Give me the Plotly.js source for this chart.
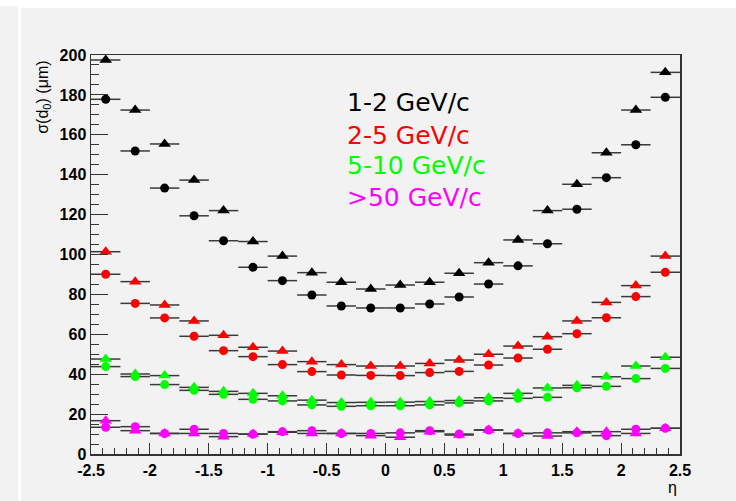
<!DOCTYPE html>
<html>
<head>
<meta charset="utf-8">
<script src="https://cdn.plot.ly/plotly-3.0.1.min.js"></script>
<style>html,body{margin:0;padding:0;background:#fff;}#chart{width:736px;height:501px;}</style>
</head>
<body>
<div id="chart"></div>
<script>
// eta bin centers (bin width 0.25)
const eta = [-2.375,-2.125,-1.875,-1.625,-1.375,-1.125,-0.875,-0.625,-0.375,-0.125,
             0.125,0.375,0.625,0.875,1.125,1.375,1.625,1.875,2.125,2.375];
const halfWidth = [0.125,0.125,0.125,0.125,0.125,0.125,0.125,0.125,0.125,0.125,
                   0.125,0.125,0.125,0.125,0.125,0.125,0.125,0.125,0.125,0.125];

// sigma(d0) in micrometres
const p1_2_tri  = [197.5,172.4,155.4,137.3,122.0,106.5,99.2,90.9,86.1,82.7,84.7,86.1,90.6,95.9,107.3,122.0,135.2,151.0,172.4,191.3];
const p1_2_circ = [177.8,151.9,133.3,119.4,106.9,93.6,86.9,79.7,74.2,73.2,73.2,75.2,78.7,85.2,94.3,105.4,122.7,138.5,155.0,178.8];
const p2_5_tri  = [101.4,86.4,74.7,66.7,59.5,53.5,51.6,46.3,44.8,44.1,44.1,45.4,47.1,50.0,54.1,58.8,66.7,76.0,84.4,99.2];
const p2_5_circ = [90.1,75.5,68.2,59.0,51.8,48.8,44.8,41.3,39.6,39.4,39.3,40.8,41.4,44.6,48.1,52.5,60.3,68.3,78.9,91.1];
const p5_10_tri  = [47.6,40.1,39.3,33.4,31.4,30.4,29.2,27.0,25.8,25.9,26.0,26.3,26.8,28.2,30.4,33.1,34.4,38.7,44.1,48.5];
const p5_10_circ = [43.8,38.8,34.8,31.9,29.9,27.4,26.6,24.6,23.9,24.2,24.2,24.6,25.6,26.6,27.9,28.4,33.2,33.9,37.8,42.9];
const p50_tri  = [16.7,11.7,10.3,10.3,8.7,10.0,10.9,10.3,10.3,9.2,8.4,11.2,9.5,12.0,10.3,9.0,11.2,11.2,10.3,12.9];
const p50_circ = [13.4,13.7,10.3,12.4,10.3,9.9,11.2,11.7,10.3,10.3,10.6,11.7,10.0,12.0,10.3,10.6,10.6,9.2,12.4,12.9];

const legendLabels = ['1-2 GeV/c','2-5 GeV/c','5-10 GeV/c','>50 GeV/c'];
const xTickVals = [-2.5,-2,-1.5,-1,-0.5,0,0.5,1,1.5,2,2.5];
const xTickText = ['-2.5','-2','-1.5','-1','-0.5','0','0.5','1','1.5','2','2.5'];

const colors = ['#000000','#ff0000','#00ff00','#ff00ff'];
const series = [
  [p1_2_tri, p1_2_circ],
  [p2_5_tri, p2_5_circ],
  [p5_10_tri, p5_10_circ],
  [p50_tri, p50_circ]
];

const traces = [];
series.forEach((pair, i) => {
  pair.forEach((vals, j) => {
    traces.push({
      type: 'scatter',
      mode: 'markers',
      x: eta,
      y: vals,
      name: legendLabels[i],
      showlegend: false,
      marker: {
        color: colors[i],
        symbol: j === 0 ? 'triangle-up' : 'circle',
        size: j === 0 ? 11 : 9,
        line: {width: 0}
      },
      error_x: {type: 'data', array: halfWidth, symmetric: true, width: 0, thickness: 1.5, color: '#3a3a3a'},
      cliponaxis: false
    });
  });
});

const tickFont = {family: 'Liberation Sans, Arial, sans-serif', size: 16, color: '#000', weight: 'bold'};
const annFont = {family: 'DejaVu Sans, sans-serif', size: 25};
const legY = [0.882, 0.797, 0.722, 0.644];

const annotations = legendLabels.map((t, i) => ({
  xref: 'paper', yref: 'paper', x: 0.431, y: legY[i],
  xanchor: 'left', yanchor: 'middle', showarrow: false,
  text: t.replace('>', '&gt;'), font: Object.assign({}, annFont, {color: colors[i]})
}));
annotations.push({
  xref: 'paper', yref: 'paper', x: -0.08, y: 0.895, textangle: -90,
  xanchor: 'center', yanchor: 'middle', showarrow: false,
  text: 'σ(d<sub>0</sub>) (μm)', font: {family: 'Liberation Sans, Arial, sans-serif', size: 16, color: '#000'}
});
annotations.push({
  xref: 'paper', yref: 'paper', x: 0.988, y: -0.083,
  xanchor: 'center', yanchor: 'middle', showarrow: false,
  text: 'η', font: {family: 'Liberation Sans, Arial, sans-serif', size: 16, color: '#000'}
});

// panel background shapes (pixel -> paper conversion using plot area 91..680 x, 55..454 y)
function px2x(px){ return (px - 91) / 589; }
function py2y(py){ return (454 - py) / 399; }

const layout = {
  width: 736, height: 501,
  margin: {l: 91, r: 56, t: 55, b: 47},
  paper_bgcolor: '#ffffff',
  plot_bgcolor: '#f2f2f2',
  showlegend: false,
  shapes: [
    {type: 'rect', xref: 'paper', yref: 'paper', layer: 'below',
     x0: px2x(0), x1: px2x(18), y0: py2y(501), y1: py2y(6), fillcolor: '#f2f2f2', line: {width: 0}},
    {type: 'rect', xref: 'paper', yref: 'paper', layer: 'below',
     x0: px2x(21), x1: px2x(736), y0: py2y(501), y1: py2y(8), fillcolor: '#f2f2f2', line: {width: 0}}
  ],
  xaxis: {
    range: [-2.5, 2.5], tickmode: 'array', tickvals: xTickVals, ticktext: xTickText,
    ticks: 'inside', ticklen: 11, tickwidth: 1, tickcolor: '#333',
    minor: {tick0: -2.5, dtick: 0.1, ticks: 'inside', ticklen: 6, tickcolor: '#333', tickwidth: 1, showgrid: false},
    showgrid: false, zeroline: false, showline: true, linecolor: '#333', linewidth: 1.5, mirror: true,
    tickfont: tickFont, ticklabelstandoff: 1
  },
  yaxis: {
    range: [0, 200], tick0: 0, dtick: 20,
    ticks: 'inside', ticklen: 17, tickwidth: 1, tickcolor: '#333',
    minor: {tick0: 0, dtick: 5, ticks: 'inside', ticklen: 8, tickcolor: '#333', tickwidth: 1, showgrid: false},
    showgrid: false, zeroline: false, showline: true, linecolor: '#333', linewidth: 1.5, mirror: true,
    tickfont: tickFont
  },
  annotations: annotations
};

Plotly.newPlot('chart', traces, layout, {staticPlot: true, displayModeBar: false});
</script>
</body>
</html>
